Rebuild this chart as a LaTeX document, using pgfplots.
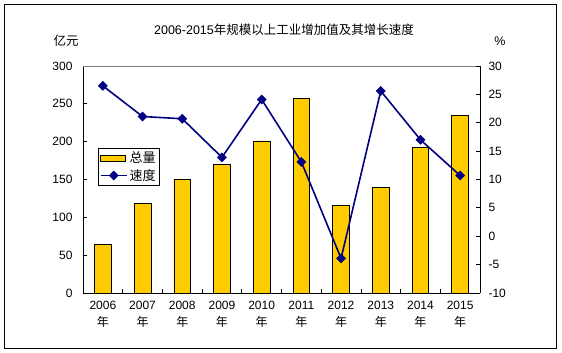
\documentclass[border=0pt]{standalone}
\usepackage{fontspec}
\setmainfont{Liberation Sans}
\newfontfamily\cjk{Noto Sans CJK SC}
\usepackage{pgfplots}
\pgfplotsset{compat=1.18}
\definecolor{baryellow}{RGB}{255,204,0}
\definecolor{navyline}{RGB}{0,0,128}
\begin{document}
\begin{tikzpicture}
\useasboundingbox (0pt,0pt) rectangle (562pt,353pt);
\draw[black, line width=0.8pt] (4pt,5pt) rectangle (556pt,349pt);
\node[font=\fontsize{12.5}{14}\selectfont] at (284pt,323pt) {2006-2015{\cjk 年规模以上工业增加值及其增长速度}};
\node[font=\cjk\fontsize{12.5}{14}\selectfont] at (66pt,312pt) {亿元};
\node[font=\fontsize{12.5}{14}\selectfont] at (500pt,312pt) {\%};
\begin{axis}[
  at={(83pt,60pt)}, anchor=south west, scale only axis,
  width=397pt, height=227pt,
  xmin=-0.5, xmax=9.5, ymin=0, ymax=300,
  axis x line*=bottom, axis y line*=left,
  axis line style={-, black, line width=0.8pt},
  xtick={0,...,9},
  xticklabels={{2006\\{\cjk 年}},{2007\\{\cjk 年}},{2008\\{\cjk 年}},{2009\\{\cjk 年}},{2010\\{\cjk 年}},{2011\\{\cjk 年}},{2012\\{\cjk 年}},{2013\\{\cjk 年}},{2014\\{\cjk 年}},{2015\\{\cjk 年}}},
  major x tick style={draw=none},
  minor xtick={0.5,1.5,...,8.5},
  minor tick length=4pt,
  minor x tick style={black, line width=0.8pt},
  ytick={0,50,...,300},
  tick align=inside, major tick length=4pt,
  y tick style={black, line width=0.8pt},
  xticklabel style={align=center, font=\fontsize{12}{17}\selectfont, yshift=-5pt},
  yticklabel style={font=\fontsize{12}{14}\selectfont, xshift=-7pt},
  /pgf/number format/assume math mode=true,
  clip=false,
]
\addplot[ybar, bar width=16.7pt, fill=baryellow, draw=black, line width=0.8pt]
  coordinates {(0,64) (1,118.5) (2,150) (3,170) (4,201) (5,257) (6,116) (7,139.5) (8,192.5) (9,235)};
\draw[gray, line width=0.6pt] (rel axis cs:0,1) -- (rel axis cs:1,1);
\end{axis}
\begin{axis}[
  at={(83pt,60pt)}, anchor=south west, scale only axis,
  width=397pt, height=227pt,
  xmin=-0.5, xmax=9.5, ymin=-10, ymax=30,
  axis x line=none, axis y line*=right,
  axis line style={-, black, line width=0.8pt},
  ytick={-10,-5,...,30},
  tick align=inside, major tick length=4pt,
  y tick style={black, line width=0.8pt},
  yticklabel style={font=\fontsize{12}{14}\selectfont, xshift=5pt},
  /pgf/number format/assume math mode=true,
  legend style={at={(0.0378,0.639)}, anchor=north west, draw=black, line width=0.8pt,
    font=\cjk\fontsize{13}{15}\selectfont, inner sep=1.5pt, row sep=1pt},
  legend cell align=left,
]
\addlegendimage{legend image code/.code={\draw[fill=baryellow,draw=black,line width=0.8pt] (0pt,-3pt) rectangle (25pt,3pt);}}
\addlegendentry{总量}
\addplot[navyline, line width=1.6pt, mark=square*, mark size=3.2pt,
  mark options={rotate=45, fill=navyline, line width=0.5pt},
  legend image code/.code={\draw[mark repeat=2, mark phase=2] plot coordinates {(0pt,0pt) (13pt,0pt) (26pt,0pt)};}]
  coordinates {(0,26.5) (1,21.1) (2,20.7) (3,13.9) (4,24.1) (5,13.1) (6,-3.9) (7,25.6) (8,17.0) (9,10.7)};
\addlegendentry{速度}
\end{axis}
\end{tikzpicture}
\end{document}
